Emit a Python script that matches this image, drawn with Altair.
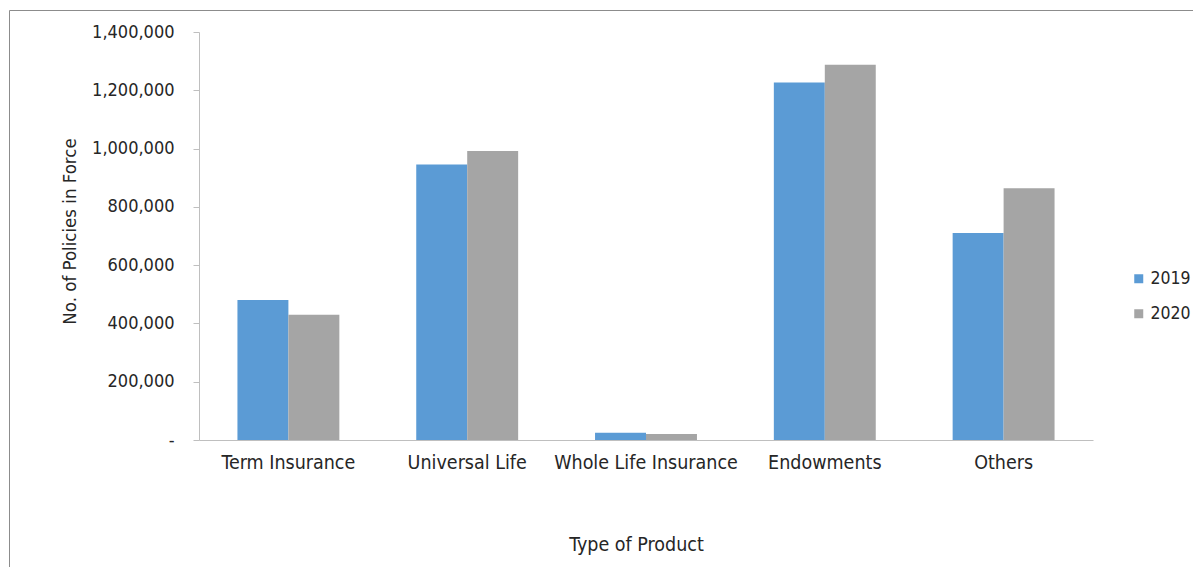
import altair as alt
import pandas as pd

categories = ["Term Insurance", "Universal Life", "Whole Life Insurance", "Endowments", "Others"]
years = ["2019", "2020"]
values_2019 = [480000, 945000, 25000, 1227000, 710000]
values_2020 = [430000, 992000, 21000, 1288000, 864000]
colors = ["#5B9BD5", "#A5A5A5"]

rows = []
for c, a, b in zip(categories, values_2019, values_2020):
    rows.append({"Type": c, "Year": years[0], "Policies": a})
    rows.append({"Type": c, "Year": years[1], "Policies": b})
df = pd.DataFrame(rows)

FONT = "DejaVu Sans Condensed, DejaVu Sans"
TXT = "#262626"
W, H = 894, 408

frame = alt.Chart(pd.DataFrame({"f": [0]})).mark_rect(
    fill="transparent", stroke="#8c8c8c", strokeWidth=1
).encode(
    x=alt.value(-189.5), y=alt.value(-21.5),
    x2=alt.value(1100), y2=alt.value(700)
)

bars = alt.Chart(df).mark_bar().encode(
    x=alt.X("Type:N", sort=categories,
            scale=alt.Scale(paddingInner=0.43, paddingOuter=0.215),
            axis=alt.Axis(title="Type of Product", labelAngle=0, ticks=False,
                          domainColor="#BFBFBF", labelPadding=13, labelFontSize=19.5,
                          labelLimit=400, titleFontSize=19.5,
                          titleX=437, titleY=110, titleBaseline="alphabetic",
                          titleAnchor="start", titleAlign="center")),
    xOffset=alt.XOffset("Year:N", sort=years, scale=alt.Scale(paddingInner=0, paddingOuter=0)),
    y=alt.Y("Policies:Q", scale=alt.Scale(domain=[0, 1400000], nice=False),
            axis=alt.Axis(title="No. of Policies in Force", values=list(range(0, 1400001, 200000)),
                          labelExpr="datum.value == 0 ? '-\u00a0\u00a0' : format(datum.value, ',.0f')",
                          grid=False, tickSize=6, tickColor="#BFBFBF", domainColor="#BFBFBF",
                          labelPadding=19, titleX=-124, titleY=199, titleAngle=-90,
                          titleFontSize=18.5,
                          titleBaseline="alphabetic", titleAlign="center")),
    color=alt.Color("Year:N", sort=years, scale=alt.Scale(domain=years, range=colors),
                    legend=alt.Legend(title=None, orient="none", legendX=931, legendY=238,
                                      symbolType="square", symbolSize=81, symbolStrokeWidth=0,
                                      rowPadding=16, labelOffset=3, padding=0, labelLimit=200)),
)

chart = alt.layer(frame, bars).properties(
    width=W, height=H,
    autosize=alt.AutoSizeParams(type="none"),
    padding={"left": 191, "top": 24, "right": 100, "bottom": 127},
).configure_view(stroke=None).configure_axis(
    labelFont=FONT, titleFont=FONT, labelFontSize=18, titleFontSize=18,
    labelColor=TXT, titleColor=TXT, titleFontWeight="normal"
).configure_legend(labelFont=FONT, labelFontSize=17.5, labelColor=TXT)

chart.save("out.html", embed_options={"renderer": "svg", "actions": False})
